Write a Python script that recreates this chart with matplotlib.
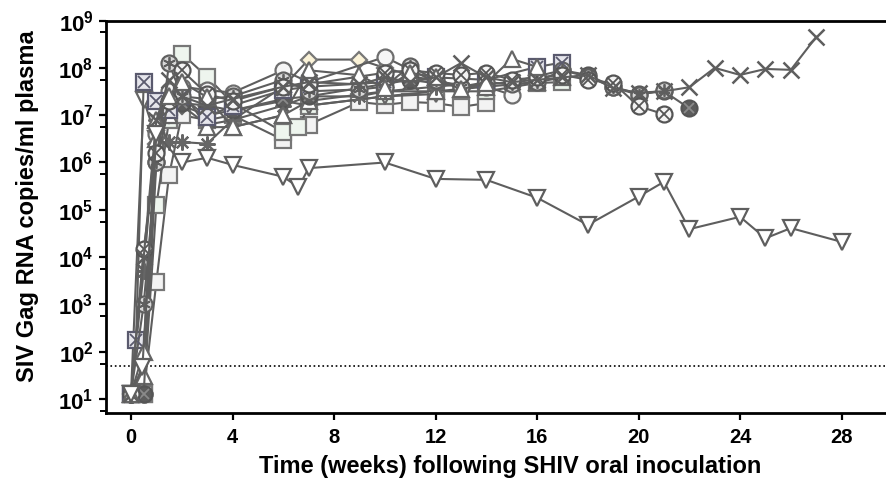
import matplotlib
matplotlib.use("Agg")
import matplotlib.pyplot as plt
from matplotlib.ticker import FixedLocator, NullFormatter

plt.rcParams['font.family'] = ['Liberation Sans', 'DejaVu Sans']
plt.rcParams['font.weight'] = 'bold'
plt.rcParams['mathtext.fontset'] = 'custom'
plt.rcParams['mathtext.rm'] = 'Liberation Sans:bold'
plt.rcParams['mathtext.bf'] = 'Liberation Sans:bold'

# ---- data (weeks, SIV Gag RNA copies/ml) ----
low_v_weeks = [0, 0.45, 1, 2, 3, 4, 6, 6.6, 7, 10, 12, 14, 16, 18, 20, 21, 22, 24, 25, 26, 28]
low_v_vals = [13, 48, 4.0e6, 1.0e6, 1.26e6, 8.9e5, 5.0e5, 3.0e5, 7.6e5, 1.0e6, 4.5e5, 4.3e5,
              1.8e5, 4.8e4, 1.9e5, 3.9e5, 3.9e4, 7.1e4, 2.5e4, 4.1e4, 2.1e4]

x_weeks = [0, 0.5, 1, 1.5, 2, 3, 4, 6, 7, 9, 10, 11, 12, 13, 14, 15, 16, 17, 18, 19, 20, 21, 22,
           23, 24, 25, 26, 27]
x_vals = [13, 1.0e4, 7.9e6, 5.5e7, 2.5e7, 1.6e7, 2.2e7, 4.0e7, 5.0e7, 4.5e7, 6.3e7, 5.0e7, 6.3e7,
          1.26e8, 6.3e7, 5.0e7, 5.6e7, 6.3e7, 7.1e7, 3.7e7, 3.0e7, 3.2e7, 3.9e7, 1.0e8, 7.1e7,
          9.5e7, 9.1e7, 4.5e8]

cx_weeks = [0, 0.5, 1, 1.5, 2, 3, 4, 6, 7, 10, 11, 12, 13, 14, 15, 16, 17, 18, 19, 20, 21]
cx_vals = [13, 1.5e4, 1.6e6, 2.0e7, 8.9e7, 2.8e7, 2.0e7, 4.0e7, 4.5e7, 7.9e7, 8.9e7, 7.8e7, 7.1e7,
           7.9e7, 5.6e7, 6.3e7, 7.1e7, 5.6e7, 4.8e7, 1.55e7, 1.05e7]

cs_weeks = [0, 0.5, 1, 1.5, 2, 3, 4, 6, 7, 9, 10, 11, 12, 13, 14, 15, 16, 17, 18, 19, 20, 21]
cs_vals = [13, 1.0e3, 1.0e6, 1.26e8, 2.5e7, 2.2e7, 2.5e7, 5.6e7, 3.2e7, 3.5e7, 4.0e7, 1.1e8, 5.6e7,
           4.0e7, 5.0e7, 4.5e7, 5.0e7, 8.9e7, 6.5e7, 3.9e7, 2.7e7, 3.4e7]

tri_weeks = [0, 0.5, 1, 1.5, 2, 3, 4, 6, 7, 9, 10, 11, 12, 13, 14, 15, 16]
tri_vals = [13, 100, 7.9e6, 2.5e7, 5.0e7, 2.4e7, 5.6e6, 1.0e7, 8.9e7, 7.0e7, 3.7e7, 7.9e7, 6.3e7,
            3.5e7, 4.8e7, 1.55e8, 1.05e8]

tri2_weeks = [0, 0.5, 1, 1.5, 2, 3, 4, 6, 7, 10, 12, 14, 16, 17]
tri2_vals = [13, 30, 3.2e6, 1.0e7, 3.2e7, 5.6e6, 5.6e6, 1.0e7, 2.0e7, 3.2e7, 3.2e7, 4.0e7, 5.0e7, 6.3e7]

dia_weeks = [0, 0.5, 1, 1.5, 2, 3, 4, 6, 7, 9, 10, 11, 12]
dia_vals = [13, 13, 2.5e6, 1.0e7, 1.6e7, 6.3e6, 7.9e6, 4.0e7, 1.5e8, 1.5e8, 1.0e8, 7.1e7, 5.0e7]

sx_weeks = [0, 0.2, 0.5, 1, 1.5, 2, 3, 4, 6, 7, 10, 12, 14, 16, 17]
sx_vals = [13, 180, 5.0e7, 2.0e7, 1.26e7, 2.5e7, 9.1e6, 1.6e7, 3.4e7, 4.0e7, 5.0e7, 6.3e7, 5.6e7,
           1.05e8, 1.3e8]

sq_weeks = [0, 0.5, 1, 1.5, 2, 3, 4, 6, 7, 9, 10, 11, 12, 13, 14]
sq_vals = [13, 13, 3.0e3, 5.4e5, 1.0e7, 7.9e6, 1.0e7, 3.0e6, 6.3e6, 1.9e7, 1.66e7, 1.9e7, 1.8e7,
           1.5e7, 1.8e7]

sq2_weeks = [0, 0.5, 1, 1.5, 2, 3, 4, 6, 6.6, 7, 10, 12, 14, 16, 17]
sq2_vals = [13, 13, 1.26e5, 7.9e6, 2.0e8, 6.5e7, 1.8e7, 4.4e6, 5.6e6, 1.6e7, 2.5e7, 3.2e7, 3.2e7,
            4.8e7, 5.0e7]

circ_weeks = [0, 0.5, 1, 1.5, 2, 3, 4, 6, 7, 10, 12, 14, 15]
circ_vals = [13, 13, 4.0e6, 3.2e7, 4.0e7, 3.4e7, 3.0e7, 8.9e7, 5.0e7, 1.7e8, 5.0e7, 4.0e7, 2.7e7]

ast_weeks = [0, 0.5, 1, 1.5, 2, 3, 4, 6, 7, 9, 10, 12, 13]
ast_vals = [13, 5.0e3, 7.9e6, 2.7e6, 2.7e6, 2.5e6, 7.9e6, 1.6e7, 2.5e7, 2.5e7, 3.2e7, 4.0e7, 4.5e7]

dk_weeks = [0, 0.5, 1, 1.5, 2, 3, 4, 6, 7, 11, 13, 15, 17, 18, 19, 20, 21, 22]
dk_vals = [13, 13, 1.0e6, 1.6e7, 1.8e7, 1.6e7, 1.26e7, 2.2e7, 2.5e7, 5.6e7, 4.0e7, 5.0e7, 8.9e7,
           7.1e7, 4.0e7, 2.8e7, 3.2e7, 1.4e7]

v2_weeks = [0, 0.5, 1, 1.5, 2, 3, 4, 6, 7, 10, 12]
v2_vals = [13, 2.1e7, 3.2e6, 1.26e7, 1.6e7, 1.0e7, 1.26e7, 2.0e7, 1.6e7, 2.5e7, 2.8e7]

lod = 50
x_ticks = [0, 4, 8, 12, 16, 20, 24, 28]
y_exps = [1, 2, 3, 4, 5, 6, 7, 8, 9]

# ---- figure ----
fig = plt.figure(figsize=(8.87, 4.95), dpi=100)
ax = fig.add_axes([106/887, (495-413)/495, (887-106)/887, (413-20.6)/495])

LINE = '#5e5e5e'
EDGE = '#6a6a6a'


def series(w, v, marker, face='#f4f4f4', edge=EDGE, ms=10, lc=LINE, over=None, over_ms=7,
           over_c=None, z=3, mew=1.6):
    ax.plot(w, v, color=lc, lw=1.5, marker=marker, ms=ms, mfc=face, mec=edge, mew=mew, zorder=z)
    if over is not None:
        ax.plot(w, v, ls='none', marker=over, ms=over_ms, mec=over_c or edge, mfc='none',
                mew=1.3, zorder=z + 0.1)


series(sq_weeks, sq_vals, 's', face='#f3f3f3', edge='#777777', ms=11.5, z=3)
series(sq2_weeks, sq2_vals, 's', face='#eef5ee', edge='#777777', ms=11.5, z=3)
series(dia_weeks, dia_vals, 'D', face='#fbf3d8', edge='#777777', ms=8.5, z=3)
series(v2_weeks, v2_vals, 'v', face='#ffffff', edge='#666666', ms=11.5, z=3)
series(circ_weeks, circ_vals, 'o', face='#f6f6f6', edge='#6e6e6e', ms=11.5, z=3)
series(tri2_weeks, tri2_vals, '^', face='#ffffff', edge='#666666', ms=11.5, z=3)
series(ast_weeks, ast_vals, (8, 2, 0), face='none', edge='#666666', ms=11.5, z=3)
series(dk_weeks, dk_vals, 'o', face='#5c5c5c', edge='#555555', ms=11.5, over='x', over_ms=7,
       over_c='#8a8a8a', z=3)
series(sx_weeks, sx_vals, 's', face='#e6e6ec', edge='#5a5a6e', ms=11.5, over='x', over_ms=9,
       over_c='#5a5a6e', z=3.2)
series(cs_weeks, cs_vals, 'o', face='#d8d8d8', edge='#606060', ms=11.5, over=(6, 2, 0), over_ms=9,
       over_c='#606060', z=3.3)
series(cx_weeks, cx_vals, 'o', face='#f4f4f4', edge='#555555', ms=11.5, over='x', over_ms=8,
       over_c='#555555', z=3.4)
series(tri_weeks, tri_vals, '^', face='#ffffff', edge='#666666', ms=11.5, z=3.5)
series(x_weeks, x_vals, 'x', face='none', edge='#5e5e5e', ms=11.5, z=3.6, mew=1.8)
series(low_v_weeks, low_v_vals, 'v', face='#ffffff', edge='#5e5e5e', ms=11.5, z=4)

ax.axhline(lod, color='black', ls=':', lw=1.2, zorder=2)

ax.set_yscale('log')
ax.set_ylim(10**0.704, 1e9)
ax.set_xlim(-0.985, 29.79)

ax.xaxis.set_major_locator(FixedLocator(x_ticks))
ax.set_xticklabels([str(t) for t in x_ticks])
ax.yaxis.set_major_locator(FixedLocator([10.0**e for e in y_exps]))
ax.set_yticklabels([r'$\mathbf{10^{%d}}$' % e for e in y_exps])
ax.yaxis.set_minor_locator(FixedLocator([10**(e - 0.25) for e in range(1, 10)]))
ax.yaxis.set_minor_formatter(NullFormatter())

ax.tick_params(axis='both', which='major', length=5, width=1.6, direction='out')
ax.tick_params(axis='x', labelsize=14.5, pad=6)
ax.tick_params(axis='y', labelsize=16, pad=4)
ax.tick_params(axis='y', which='minor', length=4, width=1.4)
for lab in ax.get_xticklabels():
    lab.set_fontweight('bold')

ax.spines['right'].set_visible(False)
for s in ('left', 'bottom', 'top'):
    ax.spines[s].set_linewidth(2)

fig.text(510/887, 1 - 466/495, 'Time (weeks) following SHIV oral inoculation', ha='center',
         va='center', fontsize=17, fontweight='bold')
fig.text(28/887, 1 - 206/495, 'SIV Gag RNA copies/ml plasma', ha='center', va='center',
         rotation=90, fontsize=17, fontweight='bold')

fig.savefig('out.png', dpi=100)
